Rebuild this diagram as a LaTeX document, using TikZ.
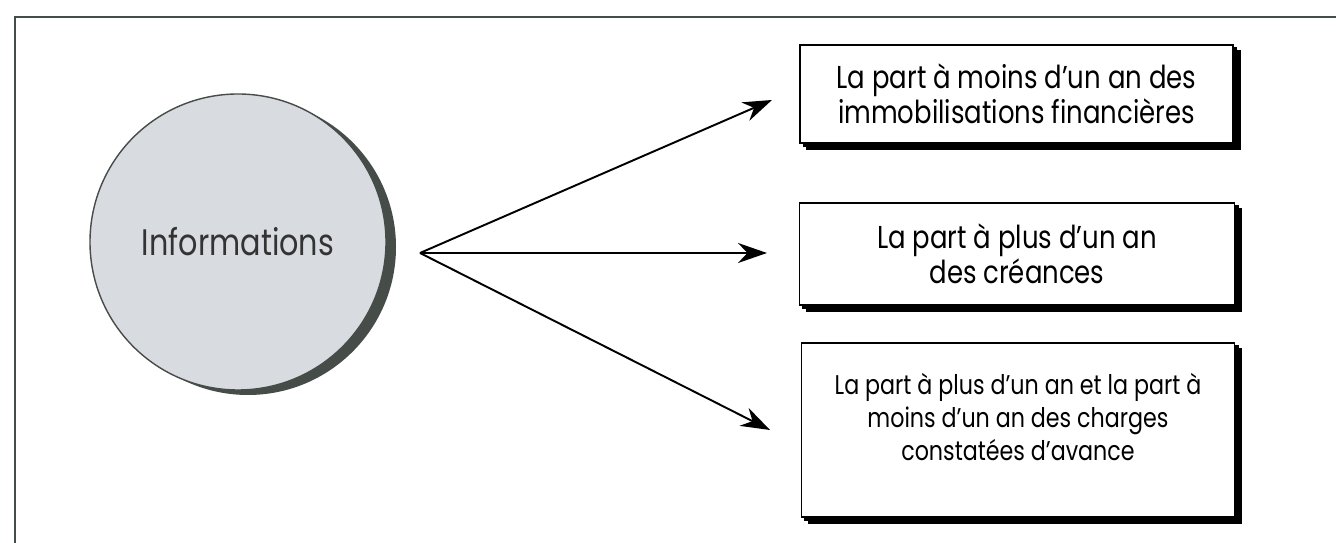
\documentclass[tikz,border=0pt]{standalone}
\usepackage{fontspec}
\setmainfont{Poppins}[FakeStretch=0.82]
\usetikzlibrary{positioning,calc,arrows.meta,shadows}

\definecolor{framegray}{RGB}{70,76,72}
\definecolor{discgray}{RGB}{216,219,223}

\begin{document}
\begin{tikzpicture}[
        info/.style={circle,draw=framegray,line width=0.8pt,fill=discgray,minimum size=5.92cm,inner sep=0pt,
            font=\fontsize{21}{24}\selectfont\color{black!80}},
        infobox/.style={rectangle,draw=black,line width=1pt,fill=white,align=center,
            inner sep=0pt,font=\fontsize{18}{18.5}\selectfont,
            double copy shadow={shadow xshift=0.07cm,shadow yshift=-0.06cm,draw=black,fill=black}},
        link/.style={line width=1.1pt,-{Stealth[length=0.58cm,width=0.4cm]}}
    ]
        \useasboundingbox (0,0) rectangle (26.72,10.86);
        % frame, open on the right and at the bottom
        \draw[framegray,line width=1.2pt] (26.72,10.52) -- (0.30,10.52) -- (0.30,0);

        % source disc
        \fill[framegray] (4.96,5.92) circle (2.96cm);
        \node[info] (info) at (4.76,6.02) {Informations};

        % target boxes
        \node[infobox,minimum width=8.66cm,minimum height=1.96cm] (imm) at (20.33,8.98)
            {La part à moins d'un an des\\ immobilisations financières};
        \node[infobox,minimum width=8.7cm,minimum height=2.04cm] (cre) at (20.34,5.78)
            {La part à plus d'un an\\ des créances};
        \node[infobox,minimum width=8.66cm,minimum height=3.48cm,font=\fontsize{15.4}{18.7}\selectfont] (cca) at (20.36,2.26)
            {La part à plus d'un an et la part à\\ moins d'un an des charges\\ constatées d'avance\\[-4pt]};

        % arrows
        \coordinate (hub) at (8.40,5.80);
        \coordinate (t1) at (15.44,8.86);
        \coordinate (t2) at (15.34,5.80);
        \coordinate (t3) at (15.40,2.26);
        \draw[link] (hub) -- (t1);
        \draw[link] (hub) -- (t2);
        \draw[link] (hub) -- (t3);
    \end{tikzpicture}
\end{document}
